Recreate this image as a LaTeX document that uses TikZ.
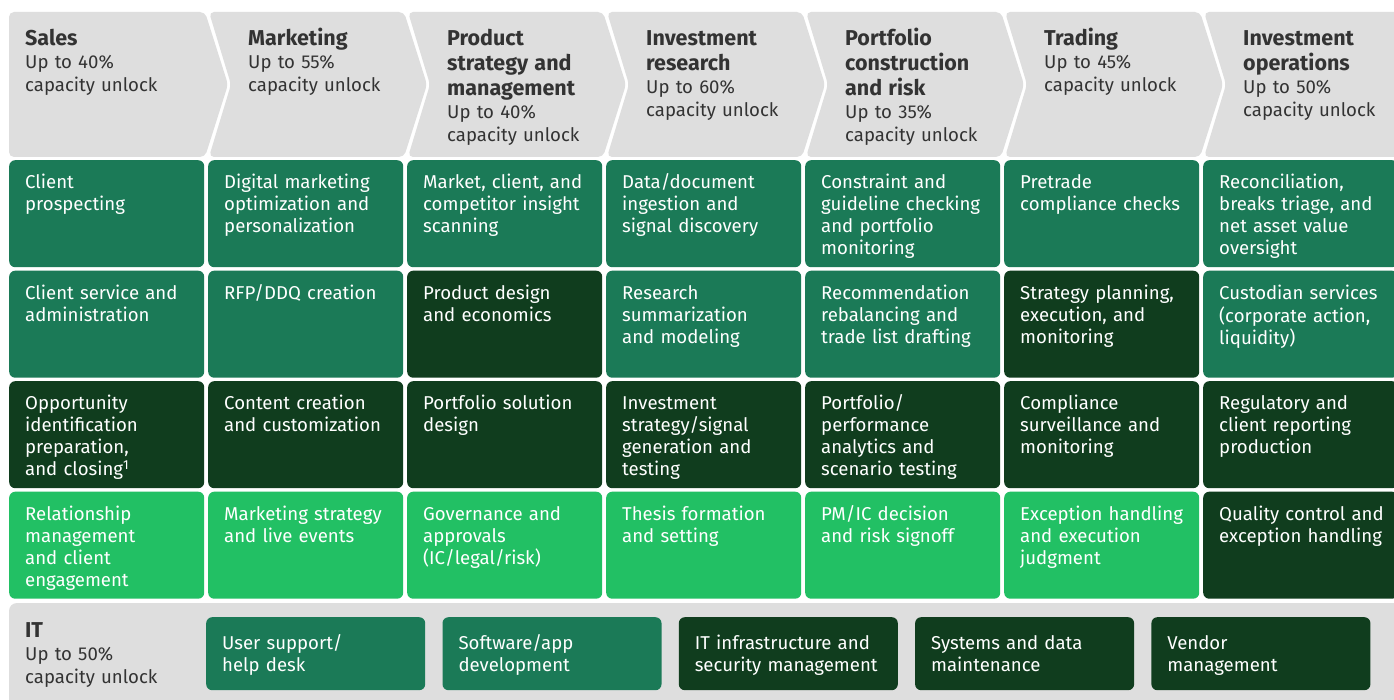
\documentclass[tikz,border=0pt]{standalone}
\usepackage{fontspec}
\setmainfont{Fira Sans}
\usepackage{tikz}
\usetikzlibrary{positioning}

\definecolor{hdgray}{HTML}{DEDEDE}
\definecolor{hdtext}{HTML}{333333}
\definecolor{gmed}{HTML}{1B7A57}
\definecolor{gdark}{HTML}{103D1E}
\definecolor{glight}{HTML}{22C064}
\newcommand{\hdfont}{\fontsize{21.5}{25}\selectfont\bfseries}

\begin{document}
\begin{tikzpicture}[x=1pt, y=-1pt,
		cell/.style={rounded corners=6pt, minimum width=195pt, minimum height=107pt, inner sep=0pt, anchor=north west},
		itbox/.style={rounded corners=6pt, minimum width=219pt, minimum height=73pt, inner sep=0pt, anchor=north west},
		celltext/.style={text=white, font=\fontsize{18.6}{22}\selectfont, text width=185pt, align=left, inner sep=0pt, anchor=north west},
		hdlabel/.style={text=hdtext, font=\fontsize{18.6}{23}\selectfont, text width=180pt, align=left, inner sep=0pt, anchor=north west}]
		\useasboundingbox (0, 0) rectangle (1394, 700);
		\clip (0, 0) rectangle (1394, 700);
		\fill[white] (0, 0) rectangle (1394, 700);

		% value chain header
		\fill[hdgray, rounded corners=5pt] (9, 12) -- (205, 12) -- (228, 84.5) -- (205, 157) -- (9, 157) -- cycle;
		\foreach \c in {2, ..., 7} {
			\pgfmathsetmacro\x{9 + 199*(\c - 1)}
			\fill[hdgray, rounded corners=5pt] (\x + 1, 12) -- (\x + 196, 12) -- (\x + 219, 84.5) -- (\x + 196, 157) -- (\x + 1, 157) -- (\x + 23, 84.5) -- cycle;
		}
		\node[hdlabel] (h1) at (25, 27.5) {{\hdfont\strut Sales\par}Up to 40\%\\capacity unlock};
		\foreach \c/\name/\pct in {2/{Marketing}/55, 3/{Product\\strategy and\\management}/40, 4/{Investment\\research}/60, 5/{Portfolio\\construction\\and risk}/35, 6/{Trading}/45, 7/{Investment\\operations}/50} {
			\pgfmathsetmacro\x{9 + 199*(\c - 1) + 40}
			\node[hdlabel] (h\c) at (\x, 27.5) {{\hdfont\strut\name\par}Up to \pct\%\\capacity unlock};
		}

		% activity grid
		\foreach \r/\c/\fc/\txt in {
			1/1/gmed/{Client\\prospecting},
			1/2/gmed/{Digital marketing\\optimization and\\personalization},
			1/3/gmed/{Market, client, and\\competitor insight\\scanning},
			1/4/gmed/{Data/document\\ingestion and\\signal discovery},
			1/5/gmed/{Constraint and\\guideline checking\\and portfolio\\monitoring},
			1/6/gmed/{Pretrade\\compliance checks},
			1/7/gmed/{Reconciliation,\\breaks triage, and\\net asset value\\oversight},
			2/1/gmed/{Client service and\\administration},
			2/2/gmed/{RFP/DDQ creation},
			2/3/gdark/{Product design\\and economics},
			2/4/gmed/{Research\\summarization\\and modeling},
			2/5/gmed/{Recommendation\\rebalancing and\\trade list drafting},
			2/6/gdark/{Strategy planning,\\execution, and\\monitoring},
			2/7/gmed/{Custodian services\\(corporate action,\\liquidity)},
			3/1/gdark/{Opportunity\\identification\\preparation,\\and closing\textsuperscript{1}},
			3/2/gdark/{Content creation\\and customization},
			3/3/gdark/{Portfolio solution\\design},
			3/4/gdark/{Investment\\strategy/signal\\generation and\\testing},
			3/5/gdark/{Portfolio/\\performance\\analytics and\\scenario testing},
			3/6/gdark/{Compliance\\surveillance and\\monitoring},
			3/7/gdark/{Regulatory and\\client reporting\\production},
			4/1/glight/{Relationship\\management\\and client\\engagement},
			4/2/glight/{Marketing strategy\\and live events},
			4/3/glight/{Governance and\\approvals\\(IC/legal/risk)},
			4/4/glight/{Thesis formation\\and setting},
			4/5/glight/{PM/IC decision\\and risk signoff},
			4/6/glight/{Exception handling\\and execution\\judgment},
			4/7/gdark/{Quality control and\\exception handling}} {
			\pgfmathsetmacro\x{9 + 199*(\c - 1)}
			\pgfmathsetmacro\y{160 + 110.5*(\r - 1)}
			\node[cell, fill=\fc] (cell-\r-\c) at (\x, \y) {};
			\node[celltext] (txt-\r-\c) at ([shift={(16, 13)}]cell-\r-\c.north west) {\strut\txt};
		}

		% IT band
		\fill[hdgray, rounded corners=8pt] (9, 603) rectangle (1420, 720);
		\node[hdlabel] (it) at (25, 619.5) {{\hdfont\strut IT\par}Up to 50\%\\capacity unlock};
		\foreach \k/\fc/\txt in {1/gmed/{User support/\\help desk}, 2/gmed/{Software/app\\development}, 3/gdark/{IT infrastructure and\\security management}, 4/gdark/{Systems and data\\maintenance}, 5/gdark/{Vendor\\management}} {
			\pgfmathsetmacro\x{206 + 236.3*(\k - 1)}
			\node[itbox, fill=\fc] (it-\k) at (\x, 617) {};
			\node[celltext] (itxt-\k) at ([shift={(16, 16.5)}]it-\k.north west) {\strut\txt};
		}
	\end{tikzpicture}
\end{document}
